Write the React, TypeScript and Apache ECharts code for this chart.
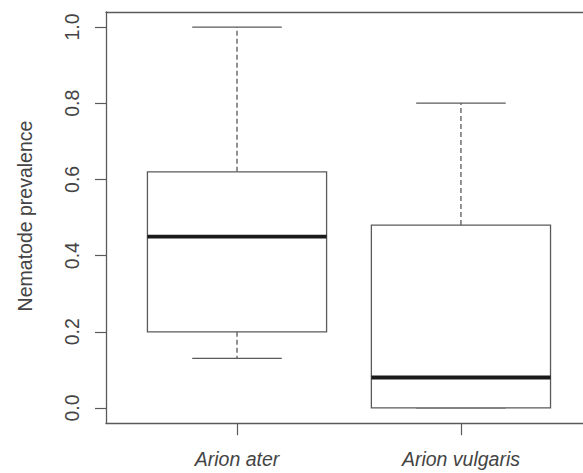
import React, { useEffect, useRef } from "react";
import * as echarts from "echarts";

const categories = ["Arion ater", "Arion vulgaris"];
const positions = [1, 2];
const whiskerLow = [0.13, 0.0];
const q1 = [0.2, 0.0];
const medians = [0.45, 0.08];
const q3 = [0.62, 0.48];
const whiskerHigh = [1.0, 0.8];
const yTicks = [0, 0.2, 0.4, 0.6, 0.8, 1.0];

const FONT = "Liberation Sans, Arial, sans-serif";

export default function App() {
  const ref = useRef<HTMLDivElement>(null);
  useEffect(() => {
    document.body.style.margin = "0";
    document.body.style.overflow = "hidden";
    const chart = echarts.init(ref.current!, null, { renderer: "svg" });
    const data = positions.map((p, i) => [p, whiskerLow[i], q1[i], medians[i], q3[i], whiskerHigh[i]]);
    const lineColor = "#5a5a5a";
    chart.setOption({
      animation: false,
      backgroundColor: "#ffffff",
      grid: {
        left: 106,
        top: 11.8,
        right: 0,
        bottom: 49.8,
        show: false,
      },
      xAxis: [
        {
          type: "value",
          position: "bottom",
          min: 0.415,
          max: 2.545,
          splitLine: { show: false },
          axisLine: { show: true, onZero: false, lineStyle: { color: lineColor, width: 1.3 } },
          axisTick: {
            show: true,
            customValues: positions,
            length: 12,
            inside: false,
            lineStyle: { color: lineColor, width: 1.2 },
          },
          axisLabel: {
            customValues: positions,
            formatter: (v: number) => categories[positions.indexOf(Math.round(v))] ?? "",
            fontStyle: "italic",
            fontSize: 19.5,
            fontFamily: FONT,
            color: "#444",
            margin: 26,
          },
        },
        {
          type: "value",
          position: "top",
          min: 0.415,
          max: 2.545,
          splitLine: { show: false },
          axisLine: { show: true, onZero: false, lineStyle: { color: lineColor, width: 1.3 } },
          axisTick: { show: false },
          axisLabel: { show: false },
        },
      ],
      yAxis: {
        type: "value",
        min: -0.04,
        max: 1.04,
        splitLine: { show: false },
        axisLine: { show: true, onZero: false, lineStyle: { color: lineColor, width: 1.3 } },
        axisTick: {
          show: true,
          customValues: yTicks,
          length: 11,
          lineStyle: { color: lineColor, width: 1.2 },
        },
        axisLabel: {
          customValues: yTicks,
          formatter: (v: number) => v.toFixed(1),
          rotate: 90,
          fontSize: 19.5,
          fontFamily: FONT,
          color: "#444",
          margin: 24,
        },
      },
      graphic: [
        {
          type: "text",
          x: 25,
          y: 216,
          rotation: Math.PI / 2,
          style: {
            text: "Nematode prevalence",
            fontSize: 19.5,
            fontFamily: FONT,
            fill: "#444",
            align: "center",
            verticalAlign: "middle",
          },
        },
      ],
      series: [
        {
          type: "custom",
          xAxisIndex: 0,
          data,
          renderItem: (params: any, api: any) => {
            const x = api.value(0);
            const lo = api.coord([x, api.value(1)]);
            const b1 = api.coord([x, api.value(2)]);
            const md = api.coord([x, api.value(3)]);
            const b3 = api.coord([x, api.value(4)]);
            const hi = api.coord([x, api.value(5)]);
            const boxW = api.size([0.8, 0])[0];
            const capW = boxW / 2;
            const cx = lo[0];
            const dash = { stroke: lineColor, lineWidth: 1.3, lineDash: [5, 3] };
            const solid = { stroke: lineColor, lineWidth: 1.3 };
            return {
              type: "group",
              children: [
                { type: "line", shape: { x1: cx, y1: b3[1], x2: cx, y2: hi[1] }, style: dash },
                { type: "line", shape: { x1: cx, y1: b1[1], x2: cx, y2: lo[1] }, style: dash },
                { type: "line", shape: { x1: cx - capW / 2, y1: hi[1], x2: cx + capW / 2, y2: hi[1] }, style: solid },
                { type: "line", shape: { x1: cx - capW / 2, y1: lo[1], x2: cx + capW / 2, y2: lo[1] }, style: solid },
                {
                  type: "rect",
                  shape: { x: cx - boxW / 2, y: b3[1], width: boxW, height: b1[1] - b3[1] },
                  style: { fill: "#ffffff", stroke: lineColor, lineWidth: 1.3 },
                },
                {
                  type: "line",
                  shape: { x1: cx - boxW / 2, y1: md[1], x2: cx + boxW / 2, y2: md[1] },
                  style: { stroke: "#1a1a1a", lineWidth: 3.8 },
                },
              ],
            };
          },
        },
      ],
    });
    return () => chart.dispose();
  }, []);
  return <div ref={ref} style={{ width: 583, height: 473 }} />;
}
